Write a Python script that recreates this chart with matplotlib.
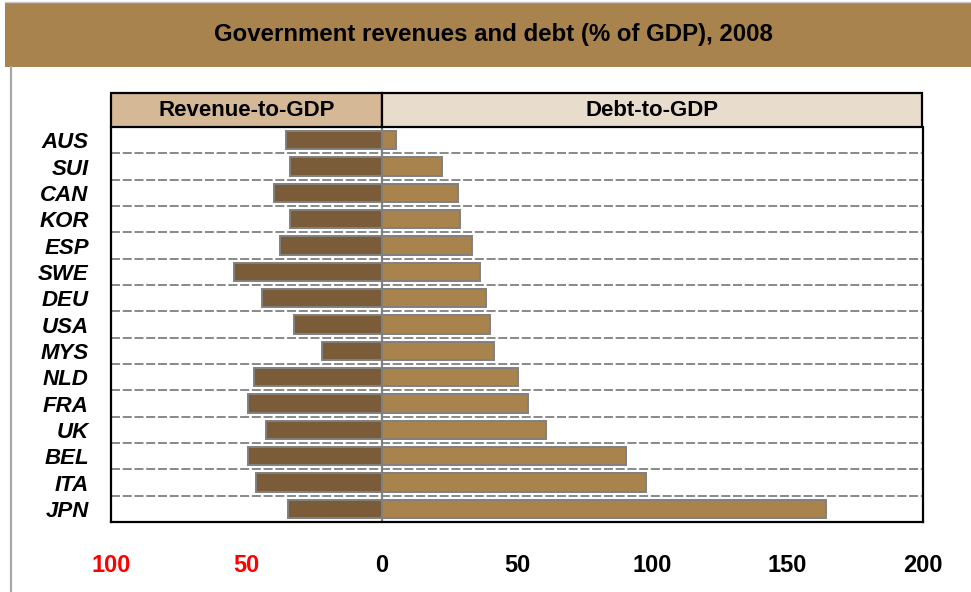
"""Government revenues and debt (% of GDP), 2008 - butterfly bar chart."""

import matplotlib

matplotlib.use("Agg")

import matplotlib.pyplot as plt
import matplotlib.transforms as mtransforms
from matplotlib.patches import Rectangle
import numpy as np

countries = ["AUS", "SUI", "CAN", "KOR", "ESP", "SWE", "DEU", "USA",
             "MYS", "NLD", "FRA", "UK", "BEL", "ITA", "JPN"]
revenue_to_gdp = [35.2, 34.0, 39.8, 34.0, 37.6, 54.4, 44.2, 32.4,
                  22.1, 47.2, 49.4, 42.7, 49.4, 46.3, 34.6]
debt_to_gdp = [5.3, 22.3, 28.2, 28.9, 33.4, 36.3, 38.5, 40.0,
               41.5, 50.3, 54.0, 60.7, 90.1, 97.5, 164.0]
tick_values = [-100, -50, 0, 50, 100, 150, 200]
panel_titles = ["Revenue-to-GDP", "Debt-to-GDP"]
chart_title = "Government revenues and debt (% of GDP), 2008"

BANNER = "#A9834E"
DARK_BROWN = "#7B5C38"
LIGHT_BROWN = "#A9834E"
HEADER_LEFT = "#D5B996"
HEADER_RIGHT = "#E8DDCC"
EDGE = "#808080"

plt.rcParams["font.family"] = ["Liberation Sans", "DejaVu Sans"]

W, H = 971, 592
figure = plt.figure(figsize=(W / 100, H / 100), dpi=100)

# title banner and left frame line
figure.patches.append(Rectangle((5 / W, 1 - 67 / H), 1, 64 / H, transform=figure.transFigure,
                                facecolor=BANNER, edgecolor="none", zorder=0))
figure.lines.append(plt.Line2D([10.5 / W, 10.5 / W], [0, 1 - 67 / H], transform=figure.transFigure,
                               color="#A6A6A6", linewidth=1.6))
figure.lines.append(plt.Line2D([5 / W, 1], [1 - 2 / H, 1 - 2 / H], transform=figure.transFigure,
                               color="#C8C8C8", linewidth=1.0))
figure.text(493 / W, 1 - 34 / H, chart_title, ha="center", va="center", fontsize=17.3,
            fontweight="bold", family=["Liberation Sans Narrow", "Liberation Sans", "DejaVu Sans"])

axis = figure.add_axes([111 / W, 1 - 522 / H, 812 / W, 395 / H])

positions = np.arange(len(countries))
axis.barh(positions, [-v for v in revenue_to_gdp], height=0.7, color=DARK_BROWN,
          edgecolor=EDGE, linewidth=1.4, zorder=3)
axis.barh(positions, debt_to_gdp, height=0.7, color=LIGHT_BROWN,
          edgecolor=EDGE, linewidth=1.4, zorder=3)

# dashed separators between rows
for boundary in positions[:-1] + 0.5:
    axis.axhline(boundary, color=EDGE, linestyle=(0, (5, 1.5)), linewidth=1.3, zorder=1)
axis.axvline(0, color=EDGE, linewidth=1.6, zorder=2)

axis.set_xlim(-100, 200)
axis.set_ylim(len(countries) - 0.5, -0.5)

axis.set_yticks(positions)
axis.set_yticklabels(countries, fontsize=16, fontweight="bold", fontstyle="italic")
axis.set_xticks(tick_values)
axis.set_xticklabels([str(abs(v)) for v in tick_values], fontsize=17, fontweight="bold")
for label, value in zip(axis.get_xticklabels(), tick_values):
    if value < 0:
        label.set_color("red")
axis.tick_params(axis="both", length=0)
axis.tick_params(axis="x", pad=23)
axis.tick_params(axis="y", pad=16)

for spine in axis.spines.values():
    spine.set_color("black")
    spine.set_linewidth(1.6)
axis.spines["top"].set_visible(False)

# panel headers above the plot
header_transform = mtransforms.blended_transform_factory(axis.transData, axis.transAxes)
header_height = 34 / 395
for (x_start, x_end), text, colour in zip([(-100, 0), (0, 199.5)], panel_titles,
                                          [HEADER_LEFT, HEADER_RIGHT]):
    axis.add_patch(Rectangle((x_start, 1.0), x_end - x_start, header_height,
                             transform=header_transform, facecolor=colour,
                             edgecolor="black", linewidth=1.6, clip_on=False, zorder=4))
    axis.text((x_start + x_end) / 2, 1.0 + header_height / 2, text, transform=header_transform,
              ha="center", va="center", fontsize=16, fontweight="bold", zorder=5)

figure.savefig("out.png", dpi=100)
plt.close(figure)
